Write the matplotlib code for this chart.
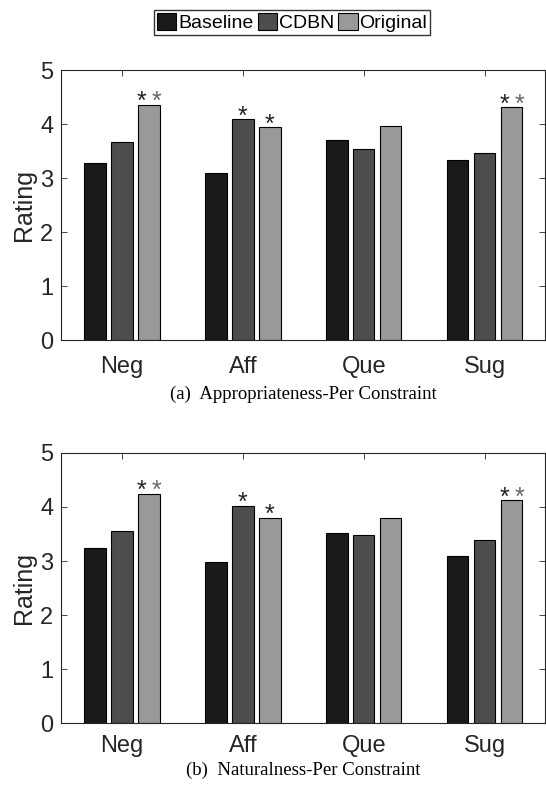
import numpy as np
import matplotlib.pyplot as plt
from matplotlib.patches import Patch

# constraint categories and models
categories = ["Neg", "Aff", "Que", "Sug"]
models = ["Baseline", "CDBN", "Original"]
colors = ["#1a1a1a", "#4d4d4d", "#999999"]

# (a) appropriateness ratings per constraint
appr_baseline = [3.28, 3.09, 3.71, 3.33]
appr_cdbn = [3.66, 4.09, 3.54, 3.46]
appr_original = [4.36, 3.94, 3.96, 4.31]

# (b) naturalness ratings per constraint
nat_baseline = [3.24, 2.98, 3.52, 3.10]
nat_cdbn = [3.56, 4.02, 3.48, 3.38]
nat_original = [4.24, 3.80, 3.80, 4.12]

# significance markers: (category index, model index, number of stars)
sig_marks = [(0, 2, 2), (1, 1, 1), (1, 2, 1), (3, 2, 2)]
star_colors = ["#222222", "#666666"]

sans = ["Liberation Sans", "DejaVu Sans"]
serif = ["Liberation Serif", "DejaVu Serif"]

fig = plt.figure(figsize=(5.46, 7.96), dpi=100)
ax_a = fig.add_axes([0.1126, 0.5725, 0.8857, 0.3395])
ax_b = fig.add_axes([0.1126, 0.0911, 0.8857, 0.3402])

bar_w = 0.178
step = 0.223
x = np.arange(1, len(categories) + 1)


def draw_panel(ax, series, caption, cap_y, xpad):
    for k, vals in enumerate(series):
        ax.bar(x + (k - 1) * step, vals, width=bar_w, color=colors[k],
               edgecolor="black", linewidth=0.8, zorder=2)
    for ci, mi, n in sig_marks:
        top = series[mi][ci]
        xc = x[ci] + (mi - 1) * step
        offs = [0.0] if n == 1 else [-0.062, 0.062]
        for s, dx in enumerate(offs):
            ax.annotate("*", (xc + dx, top), xytext=(0, -3),
                        textcoords="offset points", ha="center",
                        va="baseline", fontsize=18, color=star_colors[s],
                        family=sans)
    ax.set_xlim(0.5, 4.5)
    ax.set_ylim(0, 5)
    ax.set_xticks(x)
    ax.set_xticklabels(categories, family=sans, fontsize=17, color="#262626")
    ax.set_yticks(range(6))
    ax.set_yticklabels([str(v) for v in range(6)], family=sans, fontsize=17,
                       color="#262626")
    ax.tick_params(direction="in", length=4, width=0.6, top=True, right=True,
                   colors="#262626", pad=6)
    ax.tick_params(axis="x", pad=xpad)
    for sp in ax.spines.values():
        sp.set_linewidth(0.8)
        sp.set_color("#262626")
    ax.set_ylabel("Rating", family=sans, fontsize=18, color="#262626",
                  labelpad=3)
    ax.text(0.5, cap_y, caption, transform=ax.transAxes, ha="center",
            va="center", fontsize=13.5, family=serif)


draw_panel(ax_a, [appr_baseline, appr_cdbn, appr_original],
           "(a)  Appropriateness-Per Constraint", -0.2, 11)
draw_panel(ax_b, [nat_baseline, nat_cdbn, nat_original],
           "(b)  Naturalness-Per Constraint", -0.172, 8)

handles = [Patch(facecolor=c, edgecolor="black", linewidth=0.8) for c in colors]
fig.legend(handles, models, loc="center", bbox_to_anchor=(0.535, 0.972),
           ncol=3, frameon=True, fancybox=False, edgecolor="black",
           prop={"family": sans, "size": 14}, handlelength=1.0,
           handleheight=1.0, handletextpad=0.1, columnspacing=0.2,
           borderpad=0.15, borderaxespad=0)

fig.savefig("out.png", dpi=100)
